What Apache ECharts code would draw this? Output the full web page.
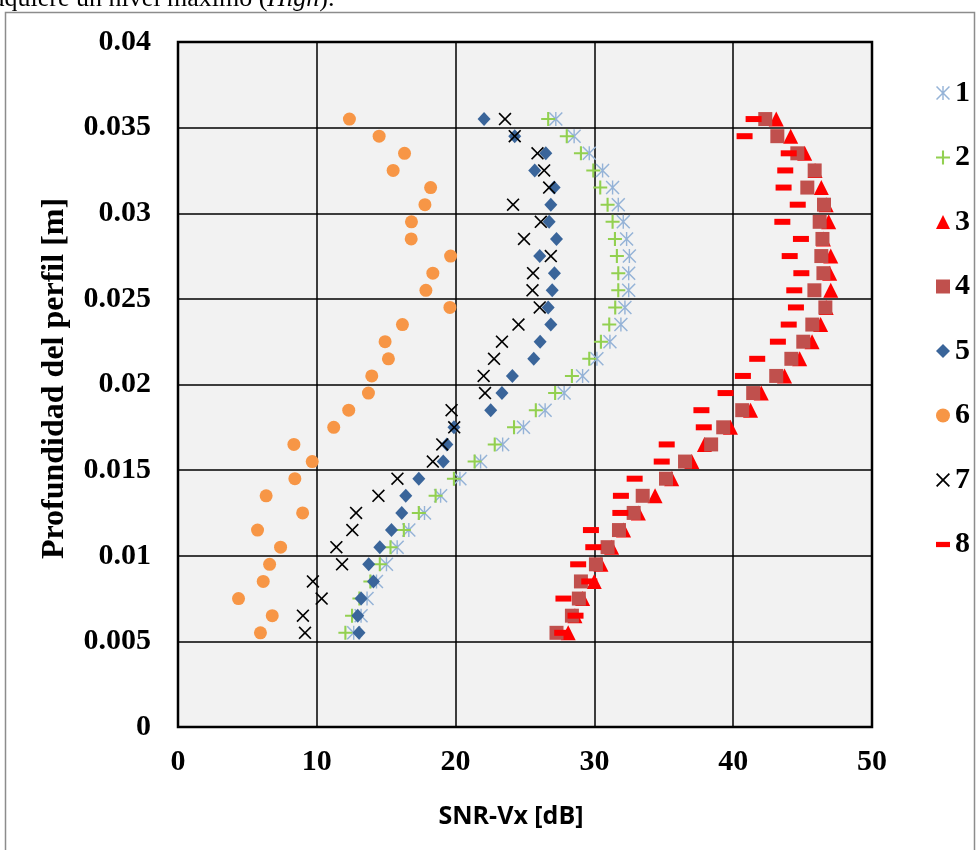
<!DOCTYPE html>
<html>
<head>
<meta charset="utf-8">
<script src="https://cdn.jsdelivr.net/npm/echarts@6/dist/echarts.min.js"></script>
<style>
  html, body { margin: 0; padding: 0; background: #fff; }
  #chart { width: 976px; height: 850px; }
</style>
</head>
<body>
<div id="chart"></div>
<script>
// profundidad (m), de abajo hacia arriba
const depth = [0.0055, 0.0065, 0.0075, 0.0085, 0.0095, 0.0105, 0.0115, 0.0125, 0.0135, 0.0145,
  0.0155, 0.0165, 0.0175, 0.0185, 0.0195, 0.0205, 0.0215, 0.0225, 0.0235, 0.0245,
  0.0255, 0.0265, 0.0275, 0.0285, 0.0295, 0.0305, 0.0315, 0.0325, 0.0335, 0.0345, 0.0355];

const seriesNames = ["1", "2", "3", "4", "5", "6", "7", "8"];
const yTicks = ["0", "0.005", "0.01", "0.015", "0.02", "0.025", "0.03", "0.035", "0.04"];
const xTicks = ["0", "10", "20", "30", "40", "50"];

// SNR-Vx [dB] por serie
const s1 = [12.66, 13.19, 13.62, 14.3, 15.02, 15.79, 16.63, 17.76, 18.92, 20.31, 21.8, 23.39, 24.89, 26.45, 27.82, 29.15, 30.18, 31.12, 31.91, 32.2, 32.47, 32.47, 32.52, 32.32, 32.08, 31.72, 31.31, 30.59, 29.63, 28.54, 27.22];
const s2 = [12.06, 12.54, 13.07, 13.86, 14.54, 15.31, 16.27, 17.35, 18.56, 19.88, 21.37, 22.82, 24.21, 25.78, 27.17, 28.38, 29.63, 30.47, 31.07, 31.5, 31.72, 31.72, 31.62, 31.48, 31.31, 30.95, 30.42, 29.92, 29.03, 28.01, 26.67];
const s3 = [28.11, 28.6, 29.15, 29.99, 30.47, 31.24, 32.1, 33.17, 34.37, 35.57, 37.02, 37.93, 39.8, 41.25, 42.02, 43.7, 44.79, 45.68, 46.3, 46.7, 47.03, 46.95, 47.03, 46.5, 46.88, 46.7, 46.35, 45.9, 45.15, 44.14, 43.1];
const s4 = [27.27, 28.38, 28.88, 29.03, 30.11, 30.95, 31.77, 32.83, 33.48, 35.16, 36.53, 38.41, 39.28, 40.65, 41.44, 43.1, 44.19, 45.05, 45.7, 46.64, 45.85, 46.5, 46.35, 46.43, 46.23, 46.54, 45.34, 45.87, 44.62, 43.18, 42.31];
const s5 = [13.04, 12.95, 13.19, 14.08, 13.74, 14.54, 15.38, 16.12, 16.41, 17.35, 19.11, 19.37, 19.88, 22.53, 23.34, 24.09, 25.63, 26.09, 26.86, 26.67, 26.96, 27.12, 26.06, 27.27, 26.74, 26.86, 27.1, 25.7, 26.5, 24.26, 22.05];
const s6 = [5.94, 6.79, 4.36, 6.14, 6.6, 7.39, 5.73, 8.98, 6.35, 8.42, 9.67, 8.35, 11.22, 12.3, 13.72, 13.96, 15.16, 14.92, 16.17, 19.59, 17.86, 18.36, 19.64, 16.8, 16.82, 17.79, 18.2, 15.5, 16.32, 14.49, 12.35];
const s7 = [9.15, 9.0, 10.35, 9.72, 11.82, 11.41, 12.56, 12.83, 14.44, 15.81, 18.36, 19.04, 19.9, 19.71, 22.12, 22.02, 22.77, 23.34, 24.53, 26.06, 25.54, 25.58, 26.86, 24.93, 26.14, 24.14, 26.74, 26.38, 25.9, 24.26, 23.56];
const s8 = [27.68, 28.64, 27.77, 29.63, 28.83, 29.92, 29.75, 31.87, 31.91, 32.9, 34.85, 35.21, 37.88, 37.71, 39.45, 40.7, 41.73, 43.22, 44.0, 44.52, 44.4, 44.91, 44.07, 44.88, 43.54, 44.65, 43.63, 43.75, 44.0, 40.82, 41.47];

// marcadores tipo Excel
const plusPath = "path://M8.5,0L11.5,0L11.5,8.5L20,8.5L20,11.5L11.5,11.5L11.5,20L8.5,20L8.5,11.5L0,11.5L0,8.5L8.5,8.5Z";
const crossPath = "path://M0,1.8L1.8,0L10,8.2L18.2,0L20,1.8L11.8,10L20,18.2L18.2,20L10,11.8L1.8,20L0,18.2L8.2,10Z";
const starPath = "path://M9,0L11,0L11,20L9,20Z M0,1.5L1.5,0L10,8.5L18.5,0L20,1.5L11.5,10L20,18.5L18.5,20L10,11.5L1.5,20L0,18.5L8.5,10Z";
const dashPath = "path://M0,0L16,0L16,6L0,6Z";

const serif = "'Liberation Serif', 'DejaVu Serif', serif";

const chart = echarts.init(document.getElementById("chart"));

const makeSeries = (name, vals, symbol, size, color) => ({
  name: name,
  type: "scatter",
  data: depth.map((d, i) => [vals[i], d]),
  symbol: symbol,
  symbolSize: size,
  itemStyle: { color: color, opacity: 1 },
  emphasis: { disabled: true },
});

const options = {
  animation: false,
  backgroundColor: "#fff",
  grid: {
    left: 178,
    top: 42,
    right: 104,
    bottom: 123,
    show: true,
    backgroundColor: "#F2F2F2",
    borderColor: "#000",
    borderWidth: 2.5,
  },
  xAxis: {
    type: "value",
    min: 0,
    max: 50,
    interval: 10,
    axisLine: { show: false },
    axisTick: { show: false },
    splitLine: { lineStyle: { color: "#000", width: 1.5 } },
    axisLabel: {
      margin: 20,
      color: "#000",
      fontFamily: serif,
      fontWeight: "bold",
      fontSize: 30,
      formatter: (v) => xTicks[Math.round(v / 10)],
    },
    name: "SNR-Vx [dB]",
    nameLocation: "middle",
    nameGap: 77,
    nameTextStyle: {
      color: "#000",
      fontFamily: "'Open Sans', 'Liberation Sans', sans-serif",
      fontWeight: "bold",
      fontSize: 25,
      padding: [0, 28, 0, 0],
    },
  },
  yAxis: {
    type: "value",
    min: 0,
    max: 0.04,
    interval: 0.005,
    axisLine: { show: false },
    axisTick: { show: false },
    splitLine: { lineStyle: { color: "#000", width: 1.5 } },
    axisLabel: {
      margin: 27,
      color: "#000",
      fontFamily: serif,
      fontWeight: "bold",
      fontSize: 30,
      formatter: (v) => yTicks[Math.round(v / 0.005)],
    },
    name: "Profundidad del perfil [m]",
    nameLocation: "middle",
    nameGap: 107,
    nameTextStyle: {
      color: "#000",
      fontFamily: serif,
      fontWeight: "bold",
      fontSize: 32,
      padding: [0, 0, 0, 12],
    },
  },
  legend: {
    orient: "vertical",
    left: 931,
    top: 73,
    itemWidth: 14,
    itemHeight: 14,
    itemGap: 34.5,
    itemTextGap: 8,
    data: seriesNames.map((n, i) => (i === 7 ? { name: n, icon: dashPath } : n)),
    textStyle: {
      color: "#000",
      fontFamily: serif,
      fontWeight: "bold",
      fontSize: 30,
      lineHeight: 30,
    },
  },
  graphic: [
    {
      type: "rect",
      silent: true,
      shape: { x: 5.5, y: 12.5, width: 969, height: 900 },
      style: { fill: "none", stroke: "#8c8c8c", lineWidth: 1.5 },
      z: -10,
    },
    {
      type: "text",
      silent: true,
      left: -20,
      top: -14,
      style: {
        text: "adquiere un nivel máximo ({i|High}).",
        rich: { i: { fontStyle: "italic", fontFamily: serif, fontSize: 26, fill: "#000" } },
        fontFamily: serif,
        fontSize: 26,
        fill: "#000",
      },
    },
  ],
  series: [
    makeSeries(seriesNames[0], s1, starPath, 14, "#95B3D7"),
    makeSeries(seriesNames[1], s2, plusPath, 14, "#92D050"),
    makeSeries(seriesNames[2], s3, "triangle", 15, "#FF0000"),
    makeSeries(seriesNames[3], s4, "rect", 14, "#C0504D"),
    makeSeries(seriesNames[4], s5, "diamond", [13, 14], "#3A659A"),
    makeSeries(seriesNames[5], s6, "circle", 13, "#F79646"),
    makeSeries(seriesNames[6], s7, crossPath, 13, "#000000"),
    makeSeries(seriesNames[7], s8, "rect", [16, 6], "#FF0000"),
  ],
};

chart.setOption(options);
</script>
</body>
</html>
